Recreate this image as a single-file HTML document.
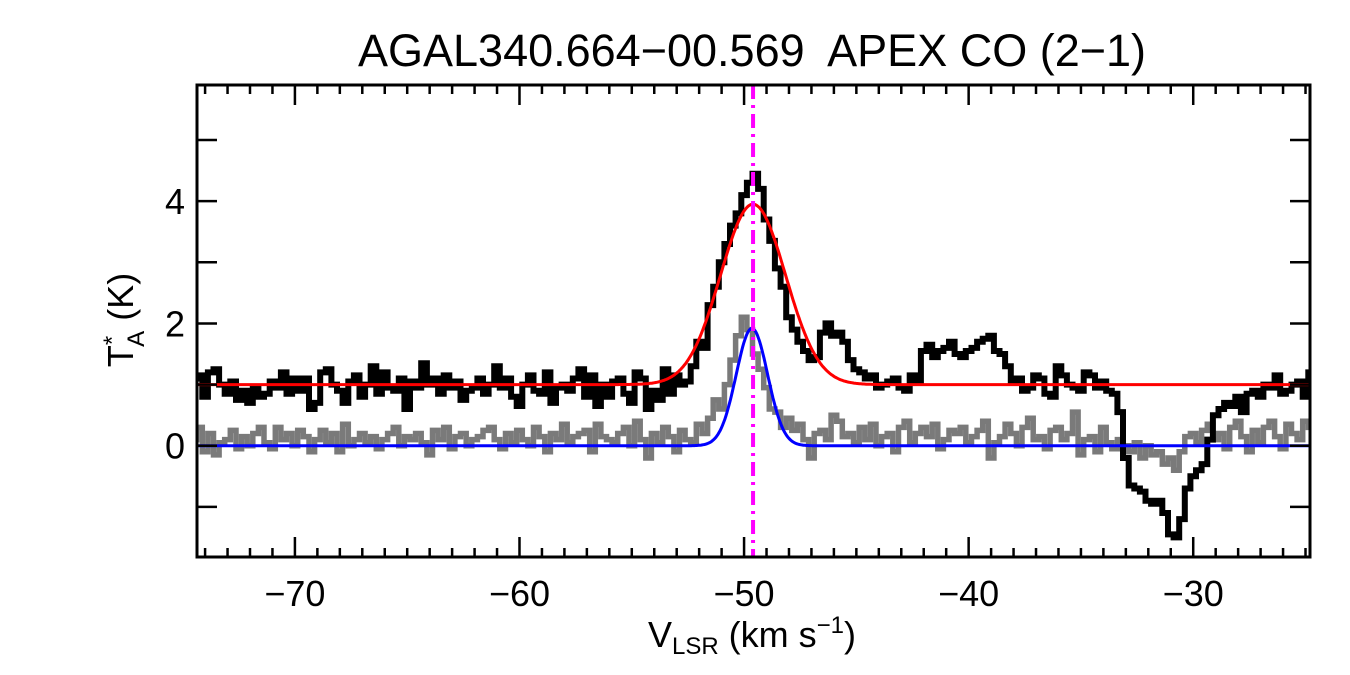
<!DOCTYPE html>
<html><head><meta charset="utf-8">
<style>
html,body{margin:0;padding:0;background:#fff;}
svg{display:block;font-family:"Liberation Sans",Arial,sans-serif;}
</style></head>
<body>
<svg id="chart" width="1350" height="675" viewBox="0 0 1350 675">
  <text x="752" y="66" font-size="45" text-anchor="middle" xml:space="preserve">AGAL340.664−00.569  APEX CO (2−1)</text>
  <g id="plot"></g>
  <text x="752" y="647" font-size="36" text-anchor="middle">V<tspan font-size="24" dy="7">LSR</tspan><tspan dy="-7"> (km s</tspan><tspan font-size="24" dy="-14">−1</tspan><tspan dy="14">)</tspan></text>
  <text transform="translate(133,320) rotate(-90)" font-size="36" text-anchor="middle">T<tspan font-size="24" dy="-13">*</tspan><tspan font-size="24" dx="-11" dy="24">A</tspan><tspan dy="-11"> (K)</tspan></text>
</svg>
<script>
const v0 = -74.5, dv = 0.25;
const blackSpec = [
1.1,1.15,0.8,1.2,1.25,1.0,0.85,1.05,0.75,0.9,
0.7,0.95,0.8,0.85,1.05,0.95,1.2,0.85,1.1,0.9,
1.1,0.6,0.7,1.2,1.25,1.0,0.9,0.7,1.05,1.15,
0.8,1.0,1.3,0.85,1.2,0.95,0.9,1.1,0.6,1.05,
0.95,1.35,1.0,1.1,0.85,1.15,0.95,1.05,0.75,0.9,
0.95,1.1,0.85,1.0,1.3,0.95,1.1,0.8,0.65,1.0,
1.15,0.9,0.85,1.2,0.7,0.95,1.0,0.9,1.1,1.25,
0.8,1.15,0.65,1.0,0.8,1.05,1.1,0.85,0.7,1.2,
1.1,0.6,0.9,0.75,1.25,0.85,1.15,1.0,1.05,1.3,
1.7,1.6,2.3,2.6,3.0,3.3,3.6,3.8,4.1,4.3,
4.45,4.2,3.7,3.35,2.9,2.6,2.1,1.9,1.7,1.55,
1.4,1.45,1.85,2.0,1.8,1.85,1.7,1.4,1.25,1.2,
1.1,1.15,0.95,1.0,1.05,1.1,0.95,0.9,1.15,1.05,
1.55,1.65,1.45,1.55,1.6,1.7,1.5,1.45,1.55,1.6,
1.7,1.75,1.8,1.55,1.5,1.3,1.05,1.1,0.9,0.95,
1.15,1.1,0.85,0.8,1.3,1.15,1.0,0.95,0.9,1.2,
1.15,0.95,1.05,0.9,0.85,0.55,-0.2,-0.65,-0.7,-0.75,
-0.9,-0.95,-0.9,-1.1,-1.45,-1.5,-1.2,-0.7,-0.5,-0.4,
-0.3,0.1,0.5,0.6,0.7,0.65,0.8,0.55,0.85,0.9,
0.8,1.0,0.95,1.15,0.85,0.9,1.0,1.05,0.8,1.2];
const graySpec = [
0.1,0.3,-0.1,0.2,-0.15,0.05,0.1,0.25,-0.05,0.15,
0.0,0.2,0.3,0.05,-0.05,0.3,0.1,0.2,0.0,0.25,
0.15,-0.1,0.1,0.25,0.05,0.2,-0.1,0.35,0.0,0.1,
0.2,0.05,0.15,-0.05,0.1,0.2,0.3,0.0,0.15,0.1,
0.2,0.05,-0.15,0.25,0.1,0.3,-0.05,0.15,0.2,0.0,
0.1,0.15,0.25,0.3,0.1,-0.05,0.2,0.05,0.25,0.1,
0.0,0.3,0.15,-0.1,0.2,0.1,0.35,0.05,0.15,0.2,
0.25,-0.1,0.35,0.15,0.1,0.05,0.2,0.3,0.0,0.4,
0.1,-0.2,0.2,0.05,0.3,0.15,-0.1,0.25,0.1,0.05,
0.35,0.2,0.45,0.75,0.6,1.0,1.4,1.8,2.1,1.9,
1.5,1.25,0.95,0.6,0.55,0.3,0.45,0.25,0.35,0.1,
-0.2,0.2,0.25,0.1,0.5,0.4,0.15,0.2,0.05,0.3,
0.1,0.35,0.0,0.15,0.2,-0.1,0.3,0.4,0.05,0.2,
0.3,0.15,0.35,-0.05,0.1,0.25,0.2,0.3,0.05,0.15,
0.25,0.4,-0.2,0.05,0.15,0.35,0.2,0.0,0.3,0.45,
0.1,0.15,-0.05,0.25,0.3,0.1,0.2,0.55,-0.15,0.1,
0.15,-0.1,0.3,0.05,-0.05,0.1,0.0,-0.1,0.05,-0.2,
0.0,-0.15,-0.1,-0.3,-0.2,-0.4,-0.1,0.15,0.2,0.05,
0.25,0.35,0.1,0.2,-0.05,0.3,0.4,0.15,-0.1,0.25,
0.05,0.3,0.4,0.15,-0.05,0.35,0.2,0.1,0.4,0.3];
const redFit = [1.0, 2.95, -49.6, 1.45];   // base, amp, center, sigma
const blueFit = [0.0, 1.92, -49.65, 0.7];
const vlsr = [-49.6];
const xTicks = [-70,-60,-50,-40,-30];
const yTicks = [0,2,4];

const X0=197, X1=1310, Y0=85, Y1=557;
const xmin=-74.36, xmax=-24.8, ymin=-1.82, ymax=5.9;
const xs = v => X0 + (v-xmin)/(xmax-xmin)*(X1-X0);
const ys = t => Y1 - (t-ymin)/(ymax-ymin)*(Y1-Y0);
const NS='http://www.w3.org/2000/svg';
const plot=document.getElementById('plot');
function mk(tag, attrs){const e=document.createElementNS(NS,tag);for(const k in attrs)e.setAttribute(k,attrs[k]);return e;}

const clip=mk('clipPath',{id:'cp'});clip.appendChild(mk('rect',{x:X0,y:Y0,width:X1-X0,height:Y1-Y0}));
const defs=mk('defs',{});defs.appendChild(clip);plot.appendChild(defs);
const g=mk('g',{'clip-path':'url(#cp)'});plot.appendChild(g);

function stepPath(arr){
  let d='';
  arr.forEach((t,i)=>{
    const a=xs(v0+i*dv-dv/2), b=xs(v0+i*dv+dv/2), y=ys(t);
    d += (i===0?'M':'L')+a.toFixed(1)+','+y.toFixed(1)+'L'+b.toFixed(1)+','+y.toFixed(1);
  });
  return d;
}
const gp=mk('path',{d:stepPath(graySpec),fill:'none',stroke:'#7a7a7a','stroke-width':5.5,'stroke-linejoin':'miter'});


g.appendChild(gp);
const bp=mk('path',{d:stepPath(blackSpec),fill:'none',stroke:'#000','stroke-width':6,'stroke-linejoin':'miter'});


g.appendChild(bp);

function fitPath(p){
  let d='';
  for(let v=xmin; v<=xmax; v+=0.05){
    const t=p[0]+p[1]*Math.exp(-Math.pow(v-p[2],2)/(2*p[3]*p[3]));
    d+=(d?'L':'M')+xs(v).toFixed(1)+','+ys(t).toFixed(1);
  }
  return d;
}
const rp=mk('path',{d:fitPath(redFit),fill:'none',stroke:'#ff0000','stroke-width':3});


g.appendChild(rp);
const blp=mk('path',{d:fitPath(blueFit),fill:'none',stroke:'#0000ff','stroke-width':3});


g.appendChild(blp);
const ml=mk('line',{x1:xs(vlsr[0]),x2:xs(vlsr[0]),y1:Y0,y2:Y1,stroke:'#ff00ff','stroke-width':4,'stroke-dasharray':'14,6,3,6'});


g.appendChild(ml);

const fr=mk('rect',{x:X0,y:Y0,width:X1-X0,height:Y1-Y0,fill:'none',stroke:'#000','stroke-width':3});


plot.appendChild(fr);

for(let v=Math.ceil(xmin); v<=xmax; v++){
  const major = v%10===0, L= major?20:9, x=xs(v);
  plot.appendChild(mk('line',{x1:x,x2:x,y1:Y1,y2:Y1-L,stroke:'#000','stroke-width':2.5}));
  plot.appendChild(mk('line',{x1:x,x2:x,y1:Y0,y2:Y0+L,stroke:'#000','stroke-width':2.5}));
}
xTicks.forEach(v=>{
  const t=mk('text',{x:xs(v),y:606,'font-size':36,'text-anchor':'middle'});
  t.textContent='\u2212'+Math.abs(v);
  
  
  plot.appendChild(t);
});
for(let v=-1; v<=5; v++){
  const y=ys(v);
  plot.appendChild(mk('line',{x1:X0,x2:X0+20,y1:y,y2:y,stroke:'#000','stroke-width':2.5}));
  plot.appendChild(mk('line',{x1:X1,x2:X1-20,y1:y,y2:y,stroke:'#000','stroke-width':2.5}));
}
yTicks.forEach(v=>{
  const t=mk('text',{x:185,y:ys(v)+13,'font-size':36,'text-anchor':'end'});
  t.textContent=String(v);
  
  
  plot.appendChild(t);
});
</script>
</body></html>
